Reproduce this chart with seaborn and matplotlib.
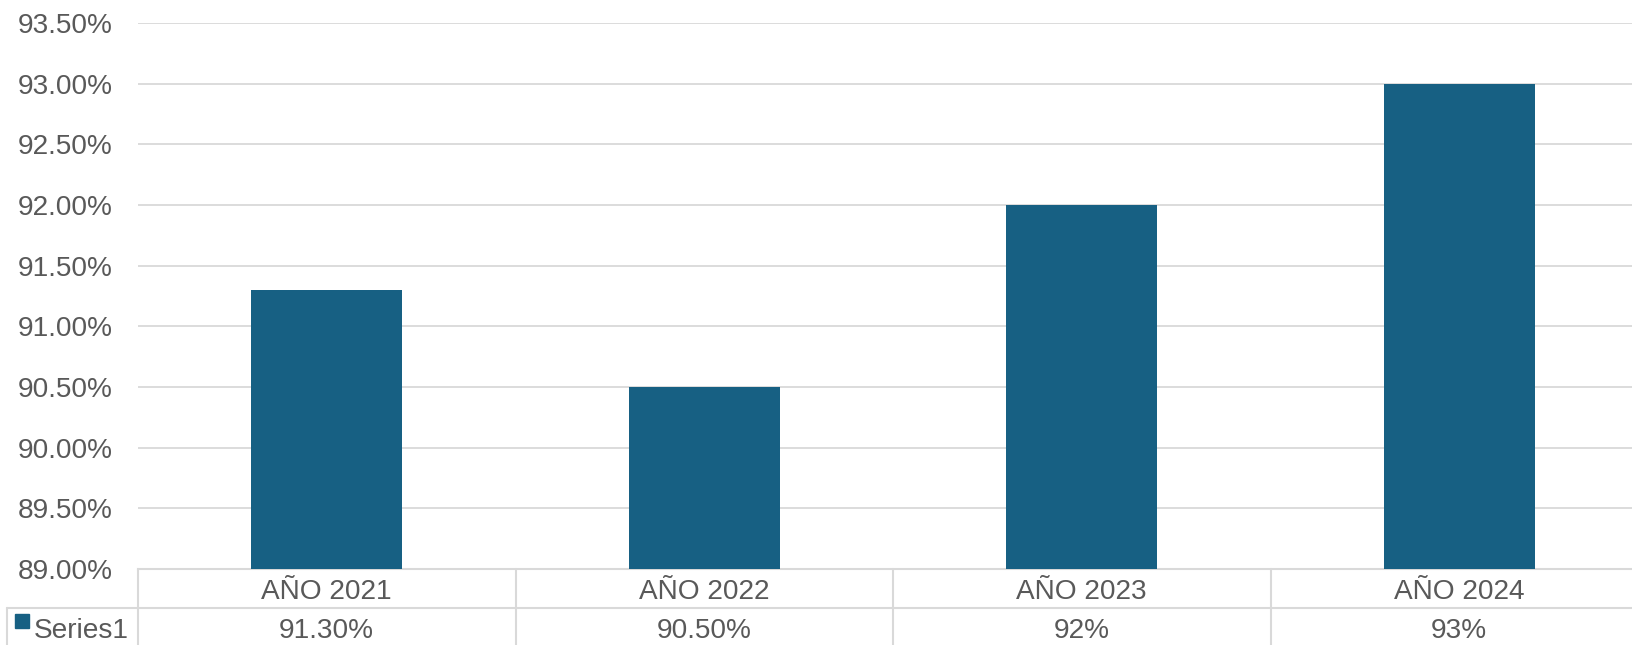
import matplotlib
matplotlib.use("Agg")
import matplotlib.pyplot as plt
import matplotlib.transforms as mtransforms
from matplotlib.lines import Line2D
from matplotlib.patches import Rectangle
import seaborn as sns
import pandas as pd

categories = ["AÑO 2021", "AÑO 2022", "AÑO 2023", "AÑO 2024"]
values = [91.30, 90.50, 92.0, 93.0]
value_labels = ["91.30%", "90.50%", "92%", "93%"]
series_name = "Series1"
yticks = [89.0, 89.5, 90.0, 90.5, 91.0, 91.5, 92.0, 92.5, 93.0, 93.5]

BAR = "#176083"
GRID = "#d9d9d9"
TXT = "#595959"
FS = 20.2

sns.set_theme(style="white")
plt.rcParams["font.family"] = ["Liberation Sans", "DejaVu Sans"]

W, H = 1632, 645
fig = plt.figure(figsize=(W / 100, H / 100), dpi=100)
left, right, bottom, top = 138, 1648, 569, 23
ax = fig.add_axes([left / W, (H - bottom) / H, (right - left) / W, (bottom - top) / H])

df = pd.DataFrame({"cat": categories, "val": values})
sns.barplot(data=df, x="cat", y="val", color=BAR, saturation=1, width=0.4, ax=ax, zorder=3)
for p in ax.patches:
    p.set_edgecolor("none")

ax.set_ylim(89.0, 93.5)
ax.set_yticks(yticks)
ax.set_yticklabels([f"{t:.2f}%" for t in yticks], color=TXT, fontsize=FS)
ax.tick_params(axis="y", length=0, pad=18.5)
ax.set_xticks(range(len(categories)))
ax.set_xticklabels([])
ax.tick_params(axis="x", length=0)
ax.set_xlabel("")
ax.set_ylabel("")
ax.yaxis.grid(True, color=GRID, linewidth=1.3, zorder=0)
ax.set_axisbelow(True)
for s in ["top", "right", "left"]:
    ax.spines[s].set_visible(False)
ax.spines["bottom"].set_color(GRID)
ax.spines["bottom"].set_linewidth(1.5)

# data table below the axis
fy = lambda py: (H - py) / H
bt = mtransforms.blended_transform_factory(ax.transData, fig.transFigure)
row1_top, row2_top, tbl_bot = 569, 608, 660
lw = 1.5
fig.add_artist(Line2D([7 / W, 1.0], [fy(row2_top)] * 2, transform=fig.transFigure, color=GRID, lw=lw))
fig.add_artist(Line2D([left / W] * 2, [fy(row1_top), fy(tbl_bot)], transform=fig.transFigure, color=GRID, lw=lw))
fig.add_artist(Line2D([7 / W] * 2, [fy(row2_top), fy(tbl_bot)], transform=fig.transFigure, color=GRID, lw=lw))
for i in range(len(categories) - 1):
    fig.add_artist(Line2D([i + 0.5] * 2, [fy(row1_top), fy(tbl_bot)], transform=bt, color=GRID, lw=lw))

for i, (c, v) in enumerate(zip(categories, value_labels)):
    fig.text(i, fy(592), c, transform=bt, ha="center", va="center", fontsize=FS, color=TXT)
    fig.text(i, fy(631), v, transform=bt, ha="center", va="center", fontsize=FS, color=TXT)

fig.add_artist(Rectangle((15 / W, fy(627.5)), 13.5 / W, 13.5 / H, transform=fig.transFigure, color=BAR))
fig.text(34 / W, fy(631), series_name, ha="left", va="center", fontsize=FS, color=TXT)

fig.savefig("out.png", dpi=100)
